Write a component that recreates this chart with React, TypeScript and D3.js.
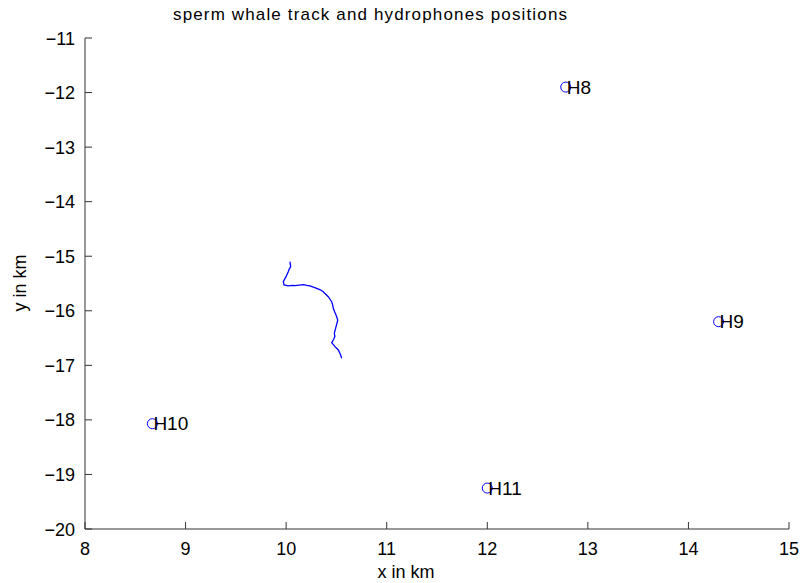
import React from 'react';
import * as d3 from 'd3';

// whale track (km)
const trackX = [10.038, 10.045, 10.030, 10.021, 9.999, 9.985, 9.972, 9.979, 10.021, 10.060, 10.088, 10.130, 10.171, 10.205, 10.237, 10.304, 10.340, 10.369, 10.419, 10.453, 10.462, 10.469, 10.480, 10.496, 10.513, 10.505, 10.496, 10.479, 10.485, 10.469, 10.453, 10.470, 10.486, 10.519, 10.542, 10.552];
const trackY = [-15.100, -15.192, -15.240, -15.283, -15.375, -15.420, -15.467, -15.527, -15.545, -15.535, -15.540, -15.530, -15.522, -15.535, -15.545, -15.588, -15.615, -15.650, -15.742, -15.833, -15.890, -15.954, -16.010, -16.077, -16.169, -16.230, -16.291, -16.412, -16.470, -16.535, -16.585, -16.620, -16.658, -16.718, -16.810, -16.870];

// hydrophones
const phoneNames = ["H8", "H9", "H10", "H11"];
const phoneX = [12.78, 14.30, 8.67, 12.00];
const phoneY = [-11.90, -16.20, -18.07, -19.25];

const xTicks = [8, 9, 10, 11, 12, 13, 14, 15];
const yTicks = [-11, -12, -13, -14, -15, -16, -17, -18, -19, -20];

const W = 805;
const H = 583;
const left = 85, right = 789, top = 38, bottom = 529;
const font = "'Liberation Sans', Arial, sans-serif";

const App = () => {
  const x = d3.scaleLinear().domain([8, 15]).range([left, right]);
  const y = d3.scaleLinear().domain([-20, -11]).range([bottom, top]);
  const line = d3.line<number>()
    .x((_, i) => x(trackX[i]))
    .y((_, i) => y(trackY[i]));
  const fmt = (v: number) => (v < 0 ? "\u2212" + Math.abs(v) : String(v));
  const axisColor = "#333";

  return (
    <div style={{ position: 'absolute', left: 0, top: 0 }}>
      <svg width={W} height={H} style={{ display: 'block', background: '#fff' }} fontFamily={font}>
        {/* title */}
        <text x={370} y={20} textAnchor="middle" fontSize={17} textLength={394} lengthAdjust="spacing">
          sperm whale track and hydrophones positions
        </text>

        {/* axes */}
        <line x1={left} x2={left} y1={top} y2={bottom} stroke={axisColor} />
        <line x1={left} x2={right} y1={bottom} y2={bottom} stroke={axisColor} />
        {xTicks.map(t => (
          <g key={"x" + t}>
            <line x1={x(t)} x2={x(t)} y1={bottom} y2={bottom - 7} stroke={axisColor} />
            <text x={x(t)} y={555} textAnchor="middle" fontSize={18}>{fmt(t)}</text>
          </g>
        ))}
        {yTicks.map(t => (
          <g key={"y" + t}>
            <line x1={left} x2={left + 7} y1={y(t)} y2={y(t)} stroke={axisColor} />
            <text x={75} y={y(t) + 6.5} textAnchor="end" fontSize={18}>{fmt(t)}</text>
          </g>
        ))}
        <text x={406} y={578} textAnchor="middle" fontSize={18}>x in km</text>
        <text transform={`translate(26, 283) rotate(-90)`} textAnchor="middle" fontSize={18}>y in km</text>

        {/* track */}
        <path d={line(trackX) || ""} fill="none" stroke="#0000ff" strokeWidth={1.3} />

        {/* hydrophones */}
        {phoneNames.map((n, i) => (
          <g key={n}>
            <circle cx={x(phoneX[i])} cy={y(phoneY[i])} r={5} fill="none" stroke="#0000ff" strokeWidth={1} />
            <text x={x(phoneX[i]) + 1} y={y(phoneY[i]) + 6.5} fontSize={19}>{n}</text>
          </g>
        ))}
      </svg>
    </div>
  );
};

export default App;
